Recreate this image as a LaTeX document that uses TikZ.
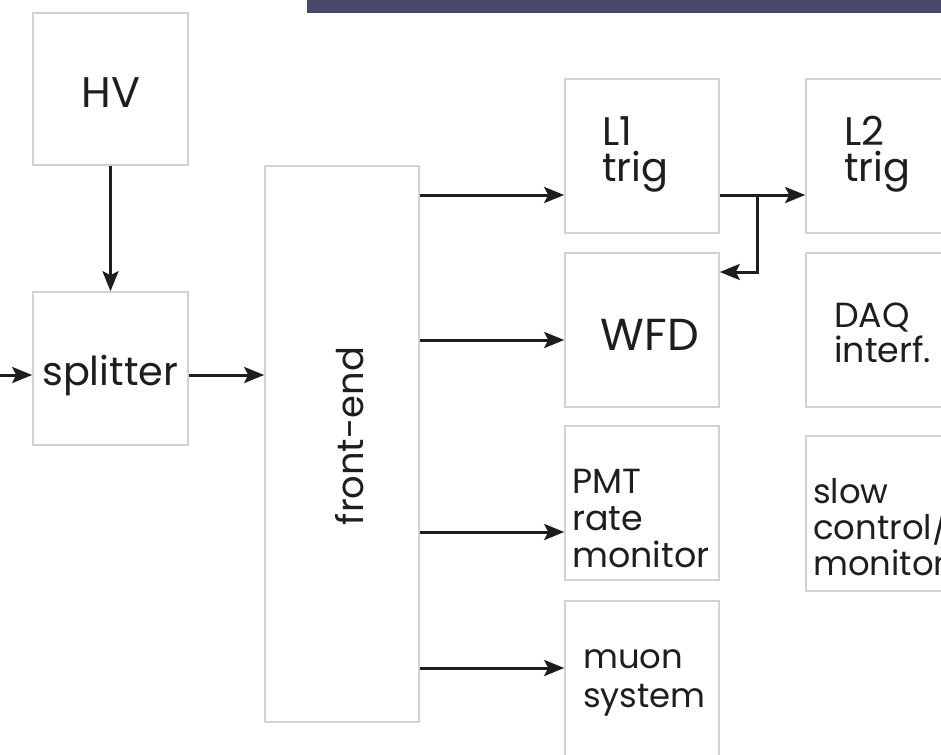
\documentclass[tikz,border=0pt]{standalone}
\usepackage{fontspec}
\setmainfont{Poppins}
\usetikzlibrary{arrows.meta}
\definecolor{band}{HTML}{484A6B}
\definecolor{boxgray}{HTML}{D2D2D2}
\definecolor{ink}{HTML}{1E1E1E}
\newcommand{\fsz}[2]{\fontsize{#1}{#2}\selectfont}
\tikzset{
  blk/.style={draw=boxgray, line width=1.6bp, fill=white, inner sep=0pt},
  lbl/.style={text=ink, inner sep=0pt, align=left, anchor=base west},
  conn/.style={draw=ink, line width=3bp, -{Stealth[length=20bp,width=16bp,inset=4bp]}},
}
\begin{document}
\begin{tikzpicture}[x=1bp,y=-1bp]
\useasboundingbox (0,0) rectangle (941,755);
\fill[band] (307,0) rectangle (941,13);
% boxes
\node[blk, minimum width=155bp, minimum height=152bp] (hv) at (110.5,89) {};
\node[blk, minimum width=155bp, minimum height=153bp] (spl) at (110.5,368.5) {};
\node[blk, minimum width=154bp, minimum height=556bp] (fe) at (342,444) {};
\node[blk, minimum width=154bp, minimum height=154bp] (l1) at (642,156) {};
\node[blk, minimum width=154bp, minimum height=154bp] (wfd) at (642,330) {};
\node[blk, minimum width=154bp, minimum height=154bp] (pmt) at (642,503) {};
\node[blk, minimum width=154bp, minimum height=160bp] (muon) at (642,681) {};
\node[blk, minimum width=154bp, minimum height=154bp] (l2) at (883,156) {};
\node[blk, minimum width=154bp, minimum height=154bp] (daq) at (883,330) {};
\node[blk, minimum width=154bp, minimum height=155bp] (slow) at (883,513.5) {};
% labels (multi-line nodes: base = baseline of last line)
\node[lbl, anchor=base, font=\fsz{43}{43}] (thv) at (111,107) {HV};
\node[lbl, font=\fsz{40}{40}] (tspl) at (42,385) {splitter};
\node[lbl, anchor=base, rotate=90, font=\fsz{37}{37}] (tfe) at (363,436) {front-end};
\node[lbl, font=\fsz{40}{36}] (tl1) at (602,181) {L1\\trig};
\node[lbl, font=\fsz{40}{36}] (tl2) at (844,181) {L2\\trig};
\node[lbl, anchor=base, font=\fsz{45}{45}] (twfd) at (650,350) {WFD};
\node[lbl, font=\fsz{35}{35}] (tdaq) at (834,362) {DAQ\\interf.};
\node[lbl, font=\fsz{35}{37}] (tpmt) at (572,567) {PMT\\rate\\monitor};
\node[lbl, font=\fsz{34}{39}] (tmuon) at (583,707) {muon\\system};
\node[lbl, font=\fsz{34}{36}] (tslow) at (813,575) {slow\\control/\\monitor};
% connectors
\coordinate (inL) at (0,375);
\draw[conn] (inL) -- (spl.west |- inL);
\draw[conn] (hv.south) -- (spl.north);
\draw[conn] (spl.east |- inL) -- (fe.west |- inL);
\coordinate (y1) at (0,195);
\coordinate (y2) at (0,340);
\coordinate (y3) at (0,532);
\coordinate (y4) at (0,668);
\draw[conn] (fe.east |- y1) -- (l1.west |- y1);
\draw[conn] (fe.east |- y2) -- (wfd.west |- y2);
\draw[conn] (fe.east |- y3) -- (pmt.west |- y3);
\draw[conn] (fe.east |- y4) -- (muon.west |- y4);
\draw[conn] (l1.east |- y1) -- (l2.west |- y1);
\coordinate (br) at (757,195);
\coordinate (br2) at (757,272);
\draw[conn] (br) -- (br2) -- (wfd.east |- br2);
\end{tikzpicture}
\end{document}
